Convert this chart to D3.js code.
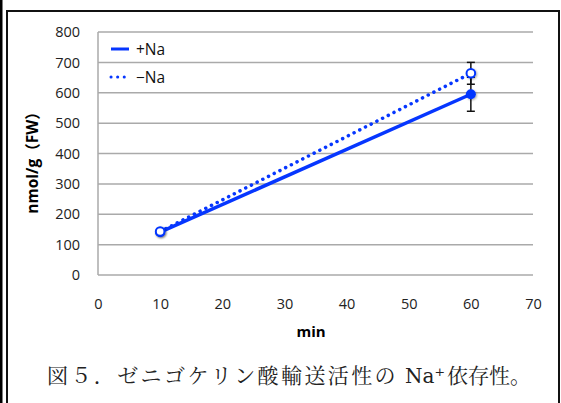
<!DOCTYPE html>
<html>
<head>
<meta charset="utf-8">
<script src="https://cdn.jsdelivr.net/npm/d3@7"></script>
<style>
  html, body { margin: 0; padding: 0; background: #fff; }
  svg { display: block; }
  .tick text { font-family: "Open Sans", "Noto Sans", sans-serif; font-size: 14.5px; fill: #222; }
</style>
</head>
<body>
<div id="app"></div>
<script>
// data
const minutes = [10, 60];
const plusNa = [141, 595];
const plusNaErr = [4, 56];
const minusNa = [143, 664];
const minusNaErr = [4, 36];
const yTicks = [0, 100, 200, 300, 400, 500, 600, 700, 800];
const xTicks = [0, 10, 20, 30, 40, 50, 60, 70];
const legendLabels = ['+Na', '\u2212Na'];
const captionParts = ['図５．ゼニゴケリン酸輸送活性の', 'Na\u207A', '依存性。'];

const W = 561, H = 403;
const plot = {left: 98, right: 533, top: 32, bottom: 275};
const blue = '#0636ff';

const svg = d3.select('#app').append('svg')
  .attr('width', W)
  .attr('height', H);

// frame around the figure
svg.append('rect').attr('x', 0).attr('y', 0).attr('width', 2.5).attr('height', H).attr('fill', '#000');
svg.append('path')
  .attr('d', `M7,${H} V11 H559 V${H}`)
  .attr('fill', 'none')
  .attr('stroke', '#111')
  .attr('stroke-width', 2);

const x = d3.scaleLinear().domain([0, 70]).range([plot.left, plot.right]);
const y = d3.scaleLinear().domain([0, 800]).range([plot.bottom, plot.top]);

// grid
svg.append('g')
  .selectAll('line')
  .data(yTicks)
  .enter().append('line')
  .attr('x1', plot.left).attr('x2', plot.right)
  .attr('y1', d => y(d)).attr('y2', d => y(d))
  .attr('stroke', '#aaa')
  .attr('stroke-width', 1.5);

svg.append('line')
  .attr('x1', plot.left).attr('x2', plot.left)
  .attr('y1', plot.top).attr('y2', plot.bottom)
  .attr('stroke', '#aaa').attr('stroke-width', 1.5);

// axes (labels only)
const yAxis = svg.append('g')
  .attr('transform', `translate(${plot.left},0)`)
  .call(d3.axisLeft(y).tickValues(yTicks).tickSize(0).tickPadding(18));
yAxis.select('.domain').remove();

const xAxis = svg.append('g')
  .attr('transform', `translate(0,${plot.bottom})`)
  .call(d3.axisBottom(x).tickValues(xTicks).tickSize(0).tickPadding(24));
xAxis.select('.domain').remove();

// axis titles
svg.append('text')
  .attr('x', 311).attr('y', 337)
  .attr('text-anchor', 'middle')
  .style('font-family', '"Open Sans", "Noto Sans", sans-serif')
  .style('font-weight', 'bold')
  .style('font-size', '15px')
  .text('min');

svg.append('text')
  .attr('transform', 'translate(38,159) rotate(-90)')
  .attr('text-anchor', 'middle')
  .style('font-family', '"Open Sans", "Noto Sans CJK JP", sans-serif')
  .style('font-weight', 'bold')
  .style('font-size', '15.5px')
  .text('nmol/g（FW）');

// shadow for markers
const defs = svg.append('defs');
const f = defs.append('filter').attr('id', 'shadow').attr('x', '-50%').attr('y', '-50%').attr('width', '200%').attr('height', '200%');
f.append('feDropShadow').attr('dx', 1).attr('dy', 1).attr('stdDeviation', 1).attr('flood-color', '#000').attr('flood-opacity', 0.35);

const line = d3.line().x((d, i) => x(minutes[i])).y(d => y(d));

// error bars
function errorBars(vals, errs) {
  const g = svg.append('g').attr('stroke', '#111').attr('stroke-width', 1.5);
  vals.forEach((v, i) => {
    if (errs[i] < 8) return;
    const cx = x(minutes[i]);
    g.append('line').attr('x1', cx).attr('x2', cx).attr('y1', y(v - errs[i])).attr('y2', y(v + errs[i]));
    [v - errs[i], v + errs[i]].forEach(e => {
      g.append('line').attr('x1', cx - 4).attr('x2', cx + 4).attr('y1', y(e)).attr('y2', y(e));
    });
  });
}
errorBars(plusNa, plusNaErr);
errorBars(minusNa, minusNaErr);

// +Na series
svg.append('path')
  .attr('d', line(plusNa))
  .attr('fill', 'none')
  .attr('stroke', blue)
  .attr('stroke-width', 3.5);

// -Na series
svg.append('path')
  .attr('d', line(minusNa))
  .attr('fill', 'none')
  .attr('stroke', blue)
  .attr('stroke-width', 3.5)
  .attr('stroke-linecap', 'round')
  .attr('stroke-dasharray', '0.1 6.3');

svg.append('g').selectAll('circle')
  .data(plusNa)
  .enter().append('circle')
  .attr('cx', (d, i) => x(minutes[i]))
  .attr('cy', d => y(d))
  .attr('r', 5)
  .attr('fill', blue)
  .attr('filter', 'url(#shadow)');

svg.append('g').selectAll('circle')
  .data(minusNa)
  .enter().append('circle')
  .attr('cx', (d, i) => x(minutes[i]))
  .attr('cy', d => y(d))
  .attr('r', 4.3)
  .attr('fill', '#fff')
  .attr('stroke', blue)
  .attr('stroke-width', 2)
  .attr('filter', 'url(#shadow)');

// legend
const legend = svg.append('g').attr('transform', 'translate(110,49)');
legendLabels.forEach((lab, i) => {
  const g = legend.append('g').attr('transform', `translate(0,${i * 28})`);
  g.append('line')
    .attr('x1', 1).attr('x2', 19).attr('y1', 0).attr('y2', 0)
    .attr('stroke', blue)
    .attr('stroke-width', 3)
    .attr('stroke-linecap', i ? 'round' : 'butt')
    .attr('stroke-dasharray', i ? '0.1 6.5' : null);
  g.append('text')
    .attr('x', 26).attr('y', 0).attr('dy', '0.36em')
    .style('font-family', '"Open Sans", "Noto Sans", sans-serif')
    .style('font-size', '15.5px')
    .style('fill', '#111')
    .text(lab);
});

// caption
const cap = svg.append('text')
  .attr('y', 383)
  .style('font-family', '"Noto Serif CJK JP", "DejaVu Serif", serif')
  .style('font-size', '21px')
  .style('fill', '#222');
cap.append('tspan').attr('x', 47).style('letter-spacing', '2.4px').text(captionParts[0]);
cap.append('tspan').attr('x', 405).style('font-family', '"DejaVu Serif", serif').style('font-size', '20px').text(captionParts[1]);
cap.append('tspan').attr('x', 447).text(captionParts[2]);
</script>
</body>
</html>
